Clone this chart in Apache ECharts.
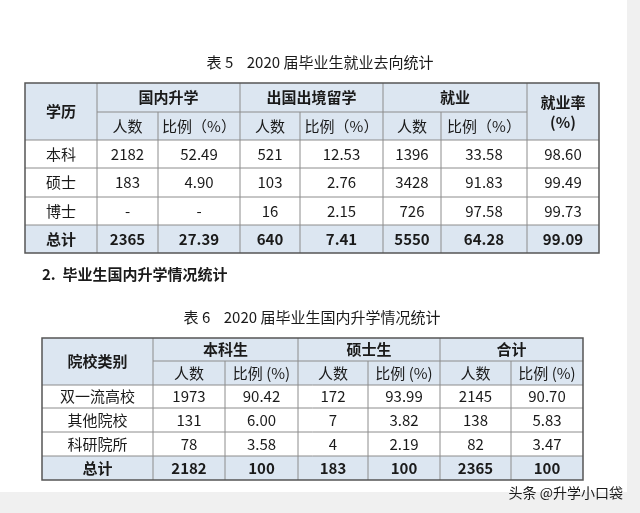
<!DOCTYPE html>
<html>
<head>
<meta charset="utf-8">
<script src="https://cdn.jsdelivr.net/npm/echarts@6/dist/echarts.min.js"></script>
<style>html,body{margin:0;padding:0;background:#fff}#main{width:640px;height:513px}</style>
</head>
<body>
<div id="main"></div>
<script>
// 表5
var t5Title = '表 5    2020 届毕业生就业去向统计';
var t5Groups = ['国内升学', '出国出境留学', '就业'];
var t5Sub = ['人数', '比例（%）'];
var t5Rows = ['本科', '硕士', '博士'];
var t5Data = [
  ['2182', '52.49', '521', '12.53', '1396', '33.58', '98.60'],
  ['183', '4.90', '103', '2.76', '3428', '91.83', '99.49'],
  ['-', '-', '16', '2.15', '726', '97.58', '99.73']
];
var t5Total = ['2365', '27.39', '640', '7.41', '5550', '64.28', '99.09'];

// 表6
var heading2 = '2.  毕业生国内升学情况统计';
var t6Title = '表 6    2020 届毕业生国内升学情况统计';
var t6Groups = ['本科生', '硕士生', '合计'];
var t6Sub = ['人数', '比例 (%)'];
var t6Rows = ['双一流高校', '其他院校', '科研院所'];
var t6Data = [
  ['1973', '90.42', '172', '93.99', '2145', '90.70'],
  ['131', '6.00', '7', '3.82', '138', '5.83'],
  ['78', '3.58', '4', '2.19', '82', '3.47']
];
var t6Total = ['2182', '100', '183', '100', '2365', '100'];

var FONT = '"Noto Sans CJK SC", sans-serif';
var HEAD_BG = '#dce6f1';
var LINE = '#8c8c8c';
var els = [];

function text(x, y, s, bold, size, align) {
  els.push({type: 'text', x: x, y: y, style: {
    text: s, fill: '#1a1a1a', font: (bold ? 'bold ' : '') + (size || 15) + 'px ' + FONT,
    align: align || 'center', verticalAlign: 'middle'}});
}
function rect(x, y, w, h, fill) {
  els.push({type: 'rect', shape: {x: x, y: y, width: w, height: h}, style: {fill: fill}});
}
function line(x1, y1, x2, y2, c, w) {
  els.push({type: 'line', shape: {x1: x1, y1: y1, x2: x2, y2: y2}, style: {stroke: c, lineWidth: w || 1}});
}

function table(cx, ry, corner, groups, sub, rows, data, total, extra) {
  var x0 = cx[0], x1 = cx[cx.length - 1], y0 = ry[0], y1 = ry[ry.length - 1];
  rect(x0, ry[0], x1 - x0, ry[2] - ry[0], HEAD_BG);
  rect(x0, ry[ry.length - 2], x1 - x0, y1 - ry[ry.length - 2], HEAD_BG);
  var mid = function (a, b) { return (a + b) / 2; };
  text(mid(cx[0], cx[1]), mid(ry[0], ry[2]), corner, true);
  groups.forEach(function (g, i) {
    text(mid(cx[1 + 2 * i], cx[3 + 2 * i]), mid(ry[0], ry[1]), g, true);
    sub.forEach(function (s, j) {
      text(mid(cx[1 + 2 * i + j], cx[2 + 2 * i + j]), mid(ry[1], ry[2]), s, false);
    });
  });
  if (extra) {
    var n = cx.length;
    text(mid(cx[n - 2], cx[n - 1]), mid(ry[0], ry[2]) - 9, extra[0], true);
    text(mid(cx[n - 2], cx[n - 1]), mid(ry[0], ry[2]) + 11, extra[1], true);
  }
  rows.forEach(function (r, i) {
    var cy = mid(ry[2 + i], ry[3 + i]);
    text(mid(cx[0], cx[1]), cy, r, false);
    data[i].forEach(function (v, j) { text(mid(cx[1 + j], cx[2 + j]), cy, v, false); });
  });
  var ty = mid(ry[ry.length - 2], y1);
  text(mid(cx[0], cx[1]), ty, '总计', true);
  total.forEach(function (v, j) { text(mid(cx[1 + j], cx[2 + j]), ty, v, true); });
  // grid lines
  for (var k = 1; k < ry.length - 1; k++) {
    var left = k === 1 ? cx[1] : x0, right = (k === 1 && extra) ? cx[cx.length - 2] : x1;
    line(left, ry[k], right, ry[k], LINE, 1);
  }
  cx.slice(1, -1).forEach(function (x, k) {
    var top = (k % 2 === 1) ? ry[1] : y0;
    if (extra && k === cx.length - 3) top = y0;
    line(x, top, x, y1, LINE, 1);
  });
  els.push({type: 'rect', shape: {x: x0, y: y0, width: x1 - x0, height: y1 - y0},
    style: {fill: null, stroke: '#555', lineWidth: 1.5}});
}

rect(627, 0, 13, 513, '#f0f0f0');
rect(0, 492, 640, 21, '#f0f0f0');

text(320, 62, t5Title, false, 15);
table([25, 97, 158, 240, 300, 383, 441, 527, 599],
  [83, 112, 140, 168, 197, 225, 253], '学历', t5Groups, t5Sub, t5Rows, t5Data, t5Total, ['就业率', '(%)']);

text(42, 274, heading2, true, 15, 'left');
text(312, 317, t6Title, false, 15);
table([42, 153, 225, 298, 368, 440, 511, 583],
  [338, 361, 385, 408, 432, 456, 480], '院校类别', t6Groups, t6Sub, t6Rows, t6Data, t6Total, null);

text(623, 493, '头条 @升学小口袋', false, 14, 'right');

var chart = echarts.init(document.getElementById('main'));
chart.setOption({graphic: {elements: els}});
</script>
</body>
</html>
